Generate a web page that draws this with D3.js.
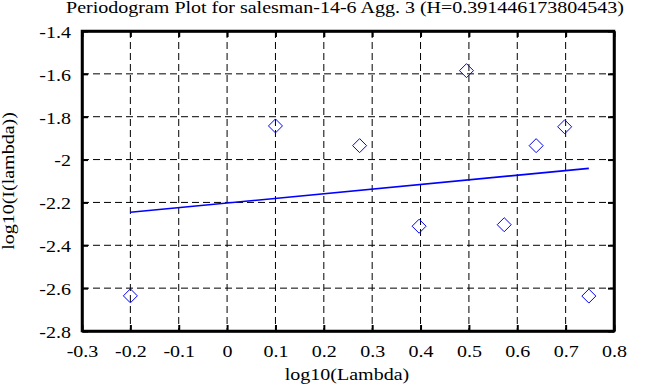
<!DOCTYPE html>
<html>
<head>
<meta charset="utf-8">
<title>Periodogram</title>
<script src="https://d3js.org/d3.v7.min.js"></script>
<style>
  body { margin: 0; background: #fff; }
  text { font-family: "Liberation Serif", serif; fill: #000; }
</style>
</head>
<body>
<div id="chart"></div>
<script>
// points
const logLambda = [-0.2, 0.1, 0.274, 0.397, 0.495, 0.573, 0.639, 0.698, 0.748];
const logI = [-2.636, -1.843, -1.935, -2.311, -1.585, -2.304, -1.935, -1.847, -2.637];
// fitted line end points
const fitX = [-0.2, 0.748];
const fitY = [-2.246, -2.041];
const xTicks = [-0.3, -0.2, -0.1, 0, 0.1, 0.2, 0.3, 0.4, 0.5, 0.6, 0.7, 0.8];
const yTicks = [-1.4, -1.6, -1.8, -2, -2.2, -2.4, -2.6, -2.8];
const title = "Periodogram Plot for salesman-14-6 Agg. 3 (H=0.391446173804543)";

const W = 668, H = 387;
const margin = {top: 31, right: 54, bottom: 56, left: 82};
const w = W - margin.left - margin.right,
      h = H - margin.top - margin.bottom;
const sx = 1.25; // the font in the picture is wider than Times

const svg = d3.select("#chart").append("svg")
    .attr("width", W).attr("height", H);
const g = svg.append("g")
    .attr("transform", `translate(${margin.left},${margin.top})`);

const x = d3.scaleLinear().domain([-0.3, 0.8]).range([0, w]);
const y = d3.scaleLinear().domain([-2.8, -1.4]).range([h, 0]);

// dashed grid
g.append("g").selectAll("line").data(xTicks.slice(1, -1)).join("line")
    .attr("x1", d => x(d)).attr("x2", d => x(d))
    .attr("y1", 0).attr("y2", h)
    .attr("stroke", "#000").attr("stroke-dasharray", "7,4");
g.append("g").selectAll("line").data(yTicks.slice(1, -1)).join("line")
    .attr("y1", d => y(d)).attr("y2", d => y(d))
    .attr("x1", 0).attr("x2", w)
    .attr("stroke", "#000").attr("stroke-dasharray", "7,4");

// axes
const fmt = d => d === 0 ? "0" : String(d);
const xAxis = g.append("g").attr("transform", `translate(0,${h})`)
    .call(d3.axisBottom(x).tickValues(xTicks).tickFormat(fmt).tickSizeInner(-6).tickSizeOuter(0));
const yAxis = g.append("g")
    .call(d3.axisLeft(y).tickValues(yTicks).tickFormat(fmt).tickSizeInner(-6).tickSizeOuter(0));
g.append("g")
    .call(d3.axisTop(x).tickValues(xTicks).tickFormat("").tickSizeInner(-6).tickSizeOuter(0));
g.append("g").attr("transform", `translate(${w},0)`)
    .call(d3.axisRight(y).tickValues(yTicks).tickFormat("").tickSizeInner(-6).tickSizeOuter(0));
g.selectAll(".domain").attr("stroke", "#000").attr("stroke-width", 2.5);
g.selectAll(".tick line").attr("stroke", "#000").attr("stroke-width", 2);

xAxis.selectAll(".tick text")
    .attr("x", 0).attr("y", 26).attr("dy", null)
    .attr("transform", `scale(${sx},1)`);
yAxis.selectAll(".tick text")
    .attr("x", -11 / sx).attr("dy", "0.4em")
    .attr("transform", `scale(${sx},1)`);
g.selectAll(".tick text")
    .style("font-family", "Liberation Serif, serif")
    .style("font-size", "16px");

g.append("rect").attr("width", w).attr("height", h)
    .attr("fill", "none").attr("stroke", "#000").attr("stroke-width", 2.5);

// fit line
g.append("line")
    .attr("x1", x(fitX[0])).attr("y1", y(fitY[0]))
    .attr("x2", x(fitX[1])).attr("y2", y(fitY[1]))
    .attr("stroke", "#0000ff").attr("stroke-width", 1.6);

// diamond markers
const pts = logLambda.map((d, i) => ({x: d, y: logI[i]}));
g.append("g").selectAll("path").data(pts).join("path")
    .attr("transform", d => `translate(${x(d.x)},${y(d.y)})`)
    .attr("d", "M0,-7L7,0L0,7L-7,0Z")
    .attr("fill", "none").attr("stroke", "#0000ff").attr("stroke-width", 1);

// labels
svg.append("text")
    .attr("transform", `translate(345,13) scale(${sx},1)`)
    .attr("text-anchor", "middle").attr("font-size", 16).text(title);
svg.append("text")
    .attr("transform", `translate(347,380) scale(${sx},1)`)
    .attr("text-anchor", "middle").attr("font-size", 16).text("log10(Lambda)");
svg.append("text")
    .attr("transform", `translate(14,${margin.top + h / 2}) rotate(-90) scale(${sx},1)`)
    .attr("text-anchor", "middle").attr("font-size", 16).text("log10(I(lambda))");
</script>
</body>
</html>
